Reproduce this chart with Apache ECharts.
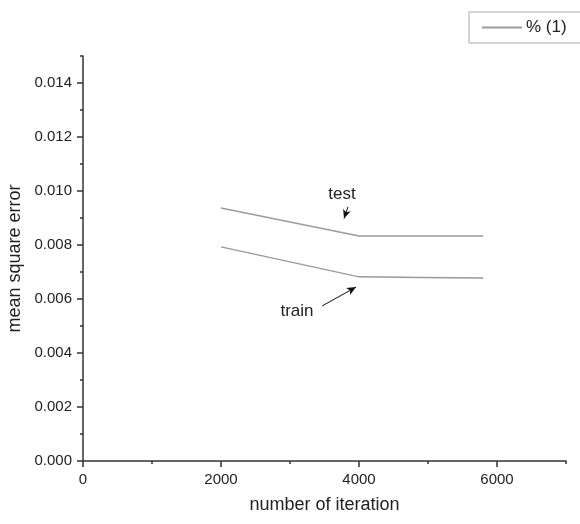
<!DOCTYPE html>
<html><head><meta charset="utf-8">
<script src="https://cdn.jsdelivr.net/npm/echarts@6/dist/echarts.min.js"></script>
<style>html,body{margin:0;padding:0;background:#fff}#c{width:580px;height:524px}</style>
</head><body><div id="c"></div>
<script>
const seriesName = '% (1)';
const testX = [2000, 4000, 5000, 5800];
const testY = [0.00937, 0.00833, 0.00833, 0.00833];
const trainX = [2000, 4000, 4900, 5800];
const trainY = [0.00793, 0.00682, 0.00680, 0.00678];
const annotTest = {label: 'test', at: [3754, 0.00989], from: [3840, 0.00941], to: [3783, 0.00898]};
const annotTrain = {label: 'train', at: [3101, 0.00556], from: [3464, 0.00574], to: [3957, 0.00644]};

const font = 'Liberation Sans, Arial, sans-serif';
const axisColor = '#333';
const lineColor = '#9a9a9a';

function pairs(xs, ys){ return xs.map((x,i)=>[x, ys[i]]); }

const chart = echarts.init(document.getElementById('c'));
chart.setOption({
  animation: false,
  textStyle: {fontFamily: font},
  grid: {left: 83, right: 14, top: 56, bottom: 63, containLabel: false, outerBoundsMode: 'none'},
  legend: {
    data: [seriesName], left: 469, top: 12, itemWidth: 40, itemHeight: 14, itemGap: 6,
    padding: [7, 20, 7, 12], borderColor: '#aaa', borderWidth: 1, borderRadius: 0,
    itemStyle: {opacity: 0},
    textStyle: {fontFamily: font, fontSize: 17, color: '#222', padding: [0, 0, 0, -1]}
  },
  xAxis: [{
    type: 'value', min: 0, max: 7000, interval: 2000,
    name: 'number of iteration', nameLocation: 'middle', nameGap: 35,
    nameTextStyle: {fontFamily: font, fontSize: 18, color: '#222'},
    axisLine: {show: true, onZero: false, lineStyle: {color: axisColor, width: 1.5}},
    axisTick: {show: true, length: 6, inside: false, lineStyle: {color: axisColor, width: 1.5}},
    axisLabel: {showMaxLabel: false, margin: 11, fontSize: 15, color: '#222', fontFamily: font,
      formatter: v => String(v)},
    splitLine: {show: false}
  }, {
    type: 'value', min: 0, max: 7000, interval: 1000, position: 'bottom',
    axisLine: {show: false}, axisLabel: {show: false}, splitLine: {show: false},
    axisTick: {show: true, length: 3, lineStyle: {color: axisColor, width: 1.5}}
  }],
  yAxis: [{
    type: 'value', min: 0, max: 0.015, interval: 0.002,
    name: 'mean square error', nameLocation: 'middle', nameGap: 55,
    nameTextStyle: {fontFamily: font, fontSize: 18, color: '#222'},
    axisLine: {show: true, onZero: false, lineStyle: {color: axisColor, width: 1.5}},
    axisTick: {show: true, length: 6, lineStyle: {color: axisColor, width: 1.5}},
    axisLabel: {showMaxLabel: false, margin: 11, fontSize: 15, color: '#222', fontFamily: font,
      formatter: v => v.toFixed(3)},
    splitLine: {show: false}
  }, {
    type: 'value', min: 0, max: 0.015, interval: 0.001, position: 'left',
    axisLine: {show: false}, axisLabel: {show: false}, splitLine: {show: false},
    axisTick: {show: true, length: 3, lineStyle: {color: axisColor, width: 1.5}}
  }],
  series: [{
    name: seriesName, type: 'line', symbol: 'none', data: pairs(testX, testY),
    lineStyle: {color: lineColor, width: 1.5}, itemStyle: {color: lineColor},
    markLine: {silent: true, symbol: ['none', 'arrow'], symbolSize: [6, 9],
      lineStyle: {color: '#111', width: 1, type: 'solid'}, label: {show: false},
      data: [[{coord: annotTest.from}, {coord: annotTest.to}], [{coord: annotTrain.from}, {coord: annotTrain.to}]]},
    markPoint: {silent: true, symbol: 'circle', symbolSize: 0,
      label: {show: true, position: 'inside', fontFamily: font, fontSize: 17, color: '#222', formatter: p => p.name},
      data: [{name: annotTest.label, coord: annotTest.at}, {name: annotTrain.label, coord: annotTrain.at}]}
  }, {
    name: seriesName, type: 'line', symbol: 'none', data: pairs(trainX, trainY),
    lineStyle: {color: lineColor, width: 1.5}, itemStyle: {color: lineColor}
  }]
});
</script></body></html>
